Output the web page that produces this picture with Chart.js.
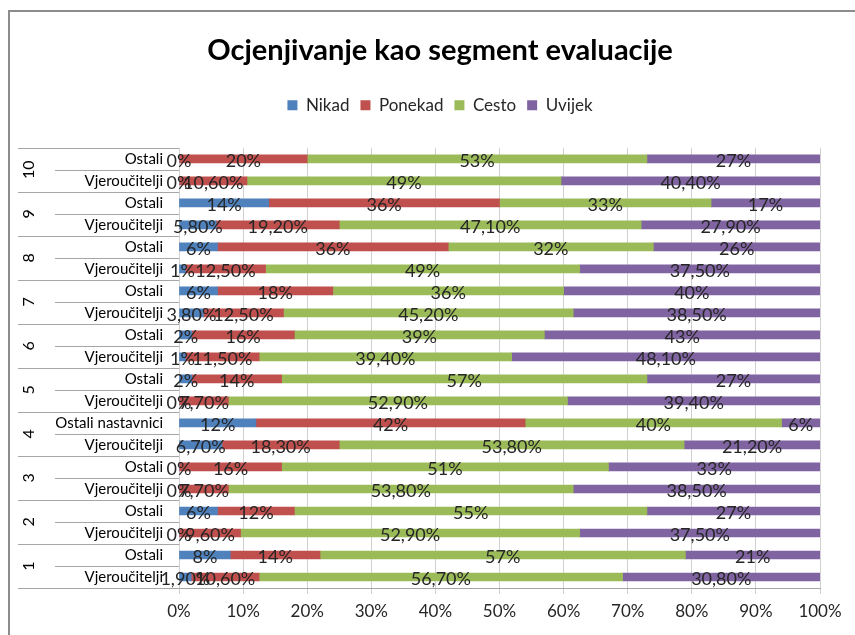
<!DOCTYPE html>
<html>
<head>
<meta charset="utf-8">
<script src="https://cdn.jsdelivr.net/npm/chart.js@4"></script>
<style>
    body { margin: 0; background: #fff; }
    #wrap { position: relative; width: 855px; height: 635px; overflow: hidden; }
    #frame { position: absolute; left: 8px; top: 10px; width: 900px; height: 700px; border: 2px solid #8c8c8c; }
    #box { position: absolute; left: 0; top: 0; width: 855px; height: 635px; }
</style>
</head>
<body>
<div id="wrap">
    <div id="frame"></div>
    <div id="box"><canvas id="myChart"></canvas></div>
</div>
<script>
// rows from top to bottom (group 10 first)
const groupLabels = ['10', '9', '8', '7', '6', '5', '4', '3', '2', '1'];
const rowLabels = [
    'Ostali', 'Vjeroučitelji',
    'Ostali', 'Vjeroučitelji',
    'Ostali', 'Vjeroučitelji',
    'Ostali', 'Vjeroučitelji',
    'Ostali', 'Vjeroučitelji',
    'Ostali', 'Vjeroučitelji',
    'Ostali nastavnici', 'Vjeroučitelji',
    'Ostali', 'Vjeroučitelji',
    'Ostali', 'Vjeroučitelji',
    'Ostali', 'Vjeroučitelji',
];

const nikad   = [0, 0, 14, 5.8, 6, 1, 6, 3.8, 2, 1, 2, 0, 12, 6.7, 0, 0, 6, 0, 8, 1.9];
const ponekad = [20, 10.6, 36, 19.2, 36, 12.5, 18, 12.5, 16, 11.5, 14, 7.7, 42, 18.3, 16, 7.7, 12, 9.6, 14, 10.6];
const cesto   = [53, 49, 33, 47.1, 32, 49, 36, 45.2, 39, 39.4, 57, 52.9, 40, 53.8, 51, 53.8, 55, 52.9, 57, 56.7];
const uvijek  = [27, 40.4, 17, 27.9, 26, 37.5, 40, 38.5, 43, 48.1, 27, 39.4, 6, 21.2, 33, 38.5, 27, 37.5, 21, 30.8];

const FONT = 'Lato';

function fmt(v) {
    if (Number.isInteger(v)) return v + '%';
    return v.toFixed(2).replace('.', ',') + '%';
}

const data = {
    labels: rowLabels,
    datasets: [
        { label: 'Nikad',   backgroundColor: '#4F81BD', data: nikad },
        { label: 'Ponekad', backgroundColor: '#C0504D', data: ponekad },
        { label: 'Cesto',   backgroundColor: '#9BBB59', data: cesto },
        { label: 'Uvijek',  backgroundColor: '#8064A2', data: uvijek },
    ]
};

// value labels in the middle of each segment
const valueLabels = {
    id: 'valueLabels',
    afterDatasetsDraw(chart) {
        const ctx = chart.ctx;
        ctx.save();
        ctx.font = '18px ' + FONT;
        ctx.fillStyle = '#262626';
        ctx.textAlign = 'center';
        ctx.textBaseline = 'middle';
        chart.data.datasets.forEach((ds, di) => {
            const meta = chart.getDatasetMeta(di);
            meta.data.forEach((bar, i) => {
                ctx.fillText(fmt(ds.data[i]), (bar.x + bar.base) / 2, bar.y + 2);
            });
        });
        ctx.restore();
    }
};

// two-level category labels and separator lines on the left
const groupAxis = {
    id: 'groupAxis',
    afterDraw(chart) {
        const ctx = chart.ctx;
        const area = chart.chartArea;
        const yScale = chart.scales.y;
        const rowH = (area.bottom - area.top) / rowLabels.length;
        ctx.save();
        ctx.strokeStyle = '#a6a6a6';
        ctx.lineWidth = 1;
        for (let i = 0; i <= rowLabels.length; i++) {
            const y = Math.round(area.top + i * rowH) + 0.5;
            ctx.beginPath();
            ctx.moveTo(i % 2 === 0 ? 18 : 55, y);
            ctx.lineTo(area.left, y);
            ctx.stroke();
        }
        ctx.fillStyle = '#000';
        ctx.textBaseline = 'middle';
        ctx.font = '15px ' + FONT;
        ctx.textAlign = 'right';
        rowLabels.forEach((name, i) => {
            ctx.fillText(name, area.left - 16, yScale.getPixelForValue(i));
        });
        ctx.font = '16px ' + FONT;
        ctx.textAlign = 'center';
        groupLabels.forEach((g, k) => {
            ctx.save();
            ctx.translate(29, area.top + (2 * k + 1) * rowH);
            ctx.rotate(-Math.PI / 2);
            ctx.fillText(g, 0, 0);
            ctx.restore();
        });
        ctx.restore();
    }
};

// extra room under the legend
const legendGap = {
    id: 'legendGap',
    beforeInit(chart) {
        const fit = chart.legend.fit;
        chart.legend.fit = function () {
            fit.bind(chart.legend)();
            this.height += 24;
        };
    }
};

const config = {
    type: 'bar',
    data: data,
    options: {
        indexAxis: 'y',
        responsive: true,
        maintainAspectRatio: false,
        animation: false,
        layout: { padding: { left: 60, right: 35, top: 0, bottom: 0 } },
        datasets: { bar: { barThickness: 8 } },
        plugins: {
            title: {
                display: true,
                text: 'Ocjenjivanje kao segment evaluacije',
                color: '#000',
                font: { family: FONT, size: 29, weight: 'bold' },
                padding: { top: 33, bottom: 18 }
            },
            legend: {
                labels: {
                    color: '#262626',
                    boxWidth: 10,
                    boxHeight: 10,
                    padding: 11,
                    font: { family: FONT, size: 17 }
                }
            },
            tooltip: { enabled: false }
        },
        scales: {
            x: {
                stacked: true,
                min: 0,
                max: 100,
                ticks: {
                    stepSize: 10,
                    color: '#262626',
                    padding: 7,
                    font: { family: FONT, size: 17 },
                    callback: v => v + '%'
                },
                grid: { color: '#d0d0d0', tickLength: 6 },
                border: { color: '#a6a6a6' },
                afterFit(scale) { scale.height = 47; }
            },
            y: {
                stacked: true,
                grid: { display: false, drawTicks: false },
                border: { display: false },
                ticks: { display: false, autoSkip: false },
                afterFit(scale) { scale.width = 119; }
            }
        }
    },
    plugins: [valueLabels, groupAxis, legendGap]
};

let myChart = new Chart(
    document.getElementById('myChart'),
    config
);
</script>
</body>
</html>
